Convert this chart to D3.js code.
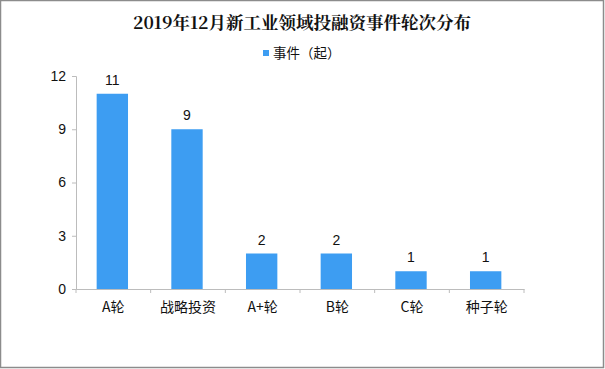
<!DOCTYPE html>
<html><head><meta charset="utf-8">
<script src="https://cdn.jsdelivr.net/npm/d3@7"></script>
<style>body{margin:0;background:#fff}svg{display:block}</style>
</head><body>
<svg id="c" width="605" height="369"></svg>
<script>
const categories = ["A轮","战略投资","A+轮","B轮","C轮","种子轮"];
const values = [11, 9, 2, 2, 1, 1];
const yTicks = [0, 3, 6, 9, 12];
const title = "2019年12月新工业领域投融资事件轮次分布";
const seriesName = "事件（起）";

const svg = d3.select("#c");
const W = 605, H = 369;
const m = {l: 76, r: 81, t: 76, b: 80};
const color = "#3d9df2";
const font = "'Liberation Sans', 'Noto Sans CJK SC', sans-serif";

svg.append("rect").attr("x",0.5).attr("y",0.5).attr("width",W-2).attr("height",H-2)
  .attr("fill","#fff").attr("stroke","#8c8c8c").attr("stroke-width",1.5);

svg.append("text").attr("x",302).attr("y",29).attr("text-anchor","middle")
  .attr("font-family","'Noto Serif CJK SC','Noto Sans CJK SC',serif").attr("font-weight","bold")
  .attr("font-size",17.5).attr("fill","#111").text(title);

const lg = svg.append("g");
lg.append("rect").attr("x",263).attr("y",50).attr("width",6).attr("height",6).attr("fill",color);
lg.append("text").attr("x",273).attr("y",58).attr("font-family","'Noto Sans CJK SC',sans-serif")
  .attr("font-size",13.5).attr("fill","#111").text(seriesName);

const x = d3.scaleBand().domain(categories).range([m.l, W - m.r]).paddingInner(0.58).paddingOuter(0.29);
const xAxisScale = d3.scaleBand().domain(categories).range([m.l, W - m.r]);
const y = d3.scaleLinear().domain([0, 12]).range([H - m.b, m.t]);

// bars
svg.append("g").selectAll("rect").data(values).join("rect")
  .attr("x",(d,i)=>x(categories[i])-1).attr("width",x.bandwidth())
  .attr("y",d=>y(d)).attr("height",d=>y(0)-y(d)).attr("fill",color);

svg.append("g").selectAll("text").data(values).join("text")
  .attr("x",(d,i)=>x(categories[i])+x.bandwidth()/2-1).attr("y",d=>y(d)-9)
  .attr("text-anchor","middle").attr("font-family",font).attr("font-size",14).attr("fill","#111")
  .text(d=>d);

// y axis
const ya = svg.append("g").attr("transform",`translate(${m.l},0)`)
  .call(d3.axisLeft(y).tickValues(yTicks).tickSize(4).tickPadding(6));
ya.select(".domain").attr("stroke","#bcbcbc");
ya.selectAll(".tick line").attr("stroke","#bcbcbc");
ya.selectAll("text").attr("font-family",font).attr("font-size",14).attr("fill","#111");

// x axis
const xa = svg.append("g").attr("transform",`translate(0,${y(0)})`)
  .call(d3.axisBottom(xAxisScale).tickSize(0).tickPadding(13));
xa.select(".domain").attr("stroke","#bcbcbc");
xa.selectAll("text").attr("font-family","'Noto Sans CJK SC',sans-serif").attr("font-size",14).attr("fill","#111");
const bounds = [...categories.map(c=>xAxisScale(c)), W - m.r];
xa.selectAll(".bt").data(bounds).join("line").attr("class","bt")
  .attr("x1",d=>d).attr("x2",d=>d).attr("y1",0).attr("y2",4).attr("stroke","#bcbcbc");
</script>
</body></html>
